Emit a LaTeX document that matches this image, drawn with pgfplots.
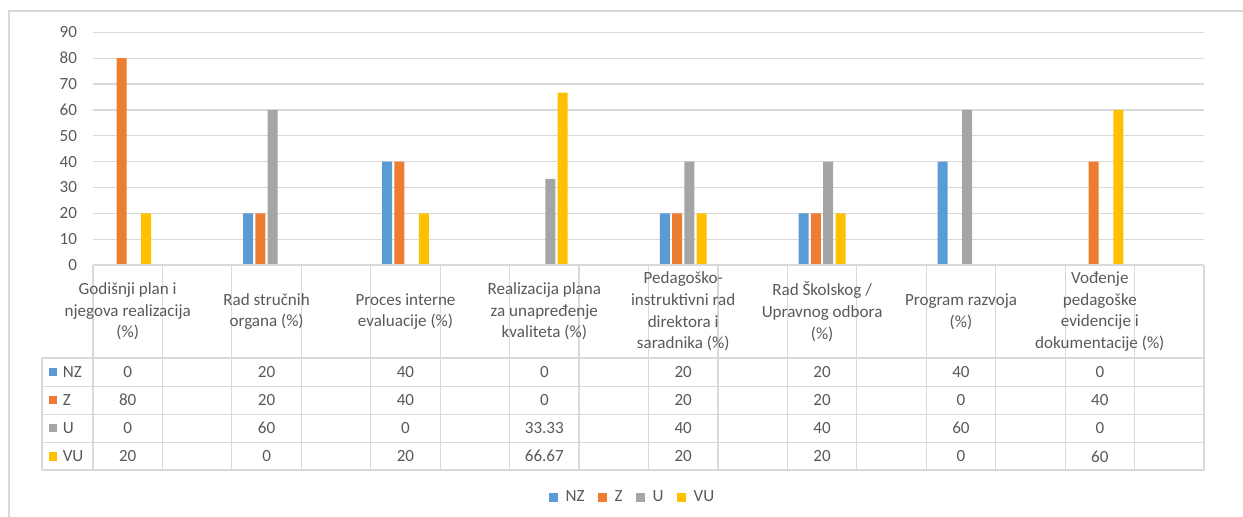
\documentclass[border=0pt]{standalone}
\usepackage{fontspec}
\setmainfont{Carlito}
\usepackage{pgfplots}
\pgfplotsset{compat=1.18}
\definecolor{cNZ}{HTML}{5B9BD5}
\definecolor{cZ}{HTML}{ED7D31}
\definecolor{cU}{HTML}{A5A5A5}
\definecolor{cVU}{HTML}{FFC000}
\definecolor{txt}{HTML}{595959}
\definecolor{grd}{HTML}{D9D9D9}
\begin{document}
\fontsize{12.8}{16.3}\selectfont
\begin{tikzpicture}
\useasboundingbox (0,0) rectangle (932.25pt,-387.75pt);
\begin{axis}[
  at={(69.75pt,-198.75pt)}, anchor=south west,
  scale only axis, width=833.25pt, height=174.5pt,
  ymin=0, ymax=90, ytick={0,10,...,90},
  xmin=-0.5, xmax=15.5, xtick=\empty,
  ybar=1.7pt, bar width=7.5pt,
  axis line style={draw=none},
  major tick length=0pt,
  ymajorgrids, grid style={grd, line width=0.9pt},
  /pgf/number format/assume math mode=true,
  yticklabel style={text=txt, font=\fontsize{12.8}{14}\selectfont, xshift=-7.5pt},
  legend style={at={(0.486,-1.0)}, anchor=center, draw=none, fill=none,
    legend columns=-1, font=\fontsize{12.8}{14}\selectfont, text=txt,
    /tikz/every even column/.append style={column sep=8pt},
    inner sep=0pt},
  legend image code/.code={\fill[#1] (0pt,-3.4pt) rectangle (7pt,3.6pt); \path (0pt,0pt) -- (10.5pt,0pt);},
]
\addplot[fill=cNZ, draw=none] coordinates {(0,0) (2,20) (4,40) (6,0) (8,20) (10,20) (12,40) (14,0)};
\addplot[fill=cZ, draw=none] coordinates {(0,80) (2,20) (4,40) (6,0) (8,20) (10,20) (12,0) (14,40)};
\addplot[fill=cU, draw=none] coordinates {(0,0) (2,60) (4,0) (6,33.33) (8,40) (10,40) (12,60) (14,0)};
\addplot[fill=cVU, draw=none] coordinates {(0,20) (2,0) (4,20) (6,66.67) (8,20) (10,20) (12,0) (14,60)};
\legend{NZ,Z,U,VU}
\end{axis}
\begin{scope}[x=0.75pt,y=-0.75pt]
\draw[grd, line width=0.9pt] (9,517) -- (9,11) -- (1243,11);
\foreach \k in {0,...,16} \draw[grd,line width=0.9pt] ({93+\k*69.4375},265) -- ({93+\k*69.4375},470);
\draw[grd,line width=0.9pt] (42,358) -- (42,470);
\foreach \y in {358,386.1,414.2,442.3,470} \draw[grd,line width=0.9pt] (42,\y) -- (1204,\y);
\draw[grd,line width=0.9pt] (93,265) -- (1204,265);
\begin{scope}[every node/.style={text=txt, align=center, inner sep=0pt}]
\node at (127.7,311.5) {Godišnji plan i\\njegova realizacija\\(\%)};
\node at (266.6,311.5) {Rad stručnih\\organa (\%)};
\node at (405.5,311.5) {Proces interne\\evaluacije (\%)};
\node at (544.3,311.5) {Realizacija plana\\za unapređenje\\kvaliteta (\%)};
\node at (683.2,311.5) {Pedagoško-\\instruktivni rad\\direktora i\\saradnika (\%)};
\node at (822.1,311.5) {Rad Školskog /\\Upravnog odbora\\(\%)};
\node at (961.0,311.5) {Program razvoja\\(\%)};
\node at (1099.8,311.5) {Vođenje\\pedagoške\\evidencije i\\dokumentacije (\%)};
\foreach \v [count=\i from 0] in {0,20,40,0,20,20,40,0} \node at ({127.7+\i*138.875},372) {\v};
\foreach \v [count=\i from 0] in {80,20,40,0,20,20,0,40} \node at ({127.7+\i*138.875},400) {\v};
\foreach \v [count=\i from 0] in {0,60,0,33.33,40,40,60,0} \node at ({127.7+\i*138.875},428) {\v};
\foreach \v [count=\i from 0] in {20,0,20,66.67,20,20,0,60} \node at ({127.7+\i*138.875},456.3) {\v};
\foreach \c/\n/\y in {cNZ/NZ/372,cZ/Z/400,cU/U/428,cVU/VU/456.3} {
  \fill[\c] (48.5,\y-4.4) rectangle (57.2,\y+4.4);
  \node[anchor=west] at (62.5,\y) {\n};
}
\end{scope}
\end{scope}
\end{tikzpicture}
\end{document}
